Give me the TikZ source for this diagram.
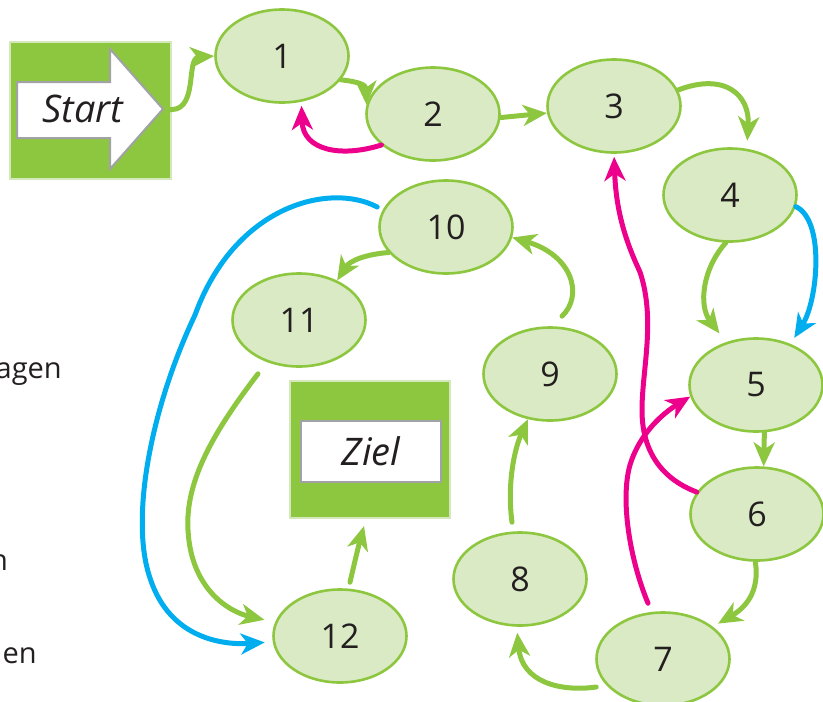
\documentclass[tikz,border=0pt]{standalone}
\usepackage{fontspec}
\setmainfont{Open Sans}
\usetikzlibrary{arrows.meta,shapes.geometric,calc}
\definecolor{gline}{RGB}{141,198,63}
\definecolor{gfill}{RGB}{218,234,196}
\definecolor{gborder}{RGB}{212,232,188}
\definecolor{magline}{RGB}{236,0,140}
\definecolor{cyanline}{RGB}{0,174,239}
\definecolor{grayb}{RGB}{160,162,165}
\definecolor{txtc}{RGB}{35,31,32}
\begin{document}
\begin{tikzpicture}[x=1pt,y=-1pt,
  field/.style={ellipse, draw=gline, fill=gfill, line width=2.6pt,
    minimum width=133pt, minimum height=93pt, inner sep=0pt,
    font=\fontsize{34}{34}\selectfont, text=txtc},
  conn/.style={line width=5pt, line cap=round,
    -{Stealth[length=24pt,width=21pt,inset=7pt]}},
  gconn/.style={conn, draw=gline},
  mconn/.style={conn, draw=magline},
  bconn/.style={conn, draw=cyanline},
  gbox/.style={draw=gborder, fill=gline, line width=2pt, inner sep=0pt},
  wbox/.style={draw=grayb, fill=white, line width=2pt, inner sep=0pt},
  hand/.style={font=\fontsize{38}{38}\selectfont\itshape, text=txtc},
  lefttxt/.style={font=\fontsize{29}{29}\selectfont, text=txtc, inner sep=0pt}
]
\useasboundingbox (0,0) rectangle (823,702);
\clip (0,0) rectangle (823,702);

% cut-off text at the left edge
\node[lefttxt, anchor=base east] (frag1) at (62,378) {agen};
\node[lefttxt, anchor=base east] (frag2) at (8,570) {n};
\node[lefttxt, anchor=base east] (frag3) at (37,663) {en};

% start box
\node[gbox, minimum width=161pt, minimum height=137pt] (startbox) at (90.5,110.5) {};
\draw[wbox] (17,82) -- (110,82) -- (110,49) -- (163,109) -- (110,169) -- (110,138) -- (17,138) -- cycle;
\node[hand] (starttxt) at (83,109) {Start};
\coordinate (sTip) at (166,109);

% goal box
\node[gbox, minimum width=160pt, minimum height=137pt] (ziel) at (370,449.5) {};
\node[wbox, minimum width=140pt, minimum height=61pt, hand] (zielfeld) at (371,451.5) {Ziel};

% fields
\node[field] (n1) at (282,56) {1};
\node[field] (n2) at (433,114) {2};
\node[field] (n3) at (614,106) {3};
\node[field] (n4) at (730,195) {4};
\node[field] (n5) at (756,385) {5};
\node[field] (n6) at (757,514) {6};
\node[field] (n7) at (663,659) {7};
\node[field] (n8) at (520,579) {8};
\node[field] (n9) at (550,374) {9};
\node[field] (n10) at (446,227) {10};
\node[field] (n11) at (299,320) {11};
\node[field] (n12) at (340,636) {12};

% green path
\draw[gconn] (sTip) .. controls (200,116) and (185,58) .. (n1.west);
\draw[gconn] (n1.-22) .. controls (360,82) and (366,85) .. (n2.172);
\draw[gconn] (n2.-3) -- (n3.186);
\draw[gconn, shorten >=8pt] (n3.14) .. controls (725,72) and (750,95) .. (n4.70);
\draw[gconn, shorten >=11pt] (n4.-95) .. controls (703,268) and (698,305) .. (n5.125);
\draw[gconn] (n5.-80) -- (n6.82);
\draw[gconn, shorten >=6pt] (n6.-92) .. controls (760,592) and (745,608) .. (n7.33);
\draw[gconn, shorten >=6pt] ($(n7.west)+(1,28)$) .. controls (560,692) and (522,682) .. (n8.-94);
\draw[gconn] ($(n8.north)+(-8,-9)$) .. controls (507,485) and (514,450) .. (n9.-116);
\draw[gconn] ($(n9.north)+(12,-10)$) .. controls (584,295) and (572,255) .. (n10.-9);
\draw[gconn] (n10.204) .. controls (368,254) and (350,260) .. (n11.46);
\draw[gconn, shorten >=11pt] ($(n11.south)+(-41,6)$) .. controls (215,430) and (185,480) .. (188,530)
   .. controls (191,590) and (230,612) .. (n12.168);
\draw[gconn] ($(n12.north)+(10,-6)$) .. controls (354,565) and (358,548) .. ($(ziel.south)+(-6,7)$);

% magenta (back) paths
\draw[mconn, shorten >=4pt] (n2.211) .. controls (340,158) and (303,150) .. (n1.-67);
\draw[mconn, shorten >=3pt] (n6.160) .. controls (665,480) and (642,455) .. (642,410)
   .. controls (642,370) and (656,320) .. (640,272)
   .. controls (625,240) and (616,210) .. (n3.-90);
\draw[mconn] ($(n7.north)+(-15,-8)$) .. controls (630,560) and (620,500) .. (630,465)
   .. controls (640,432) and (665,412) .. (n5.190);

% blue (shortcut) paths
\draw[bconn, shorten >=7pt] (n4.-10) .. controls (825,220) and (818,300) .. (n5.50);
\draw[bconn, shorten >=8pt] ($(n10.west)+(-1,-20)$) .. controls (330,182) and (235,205) .. (195,315)
   .. controls (150,410) and (130,520) .. (150,578)
   .. controls (170,640) and (225,645) .. (n12.185);
\end{tikzpicture}
\end{document}
